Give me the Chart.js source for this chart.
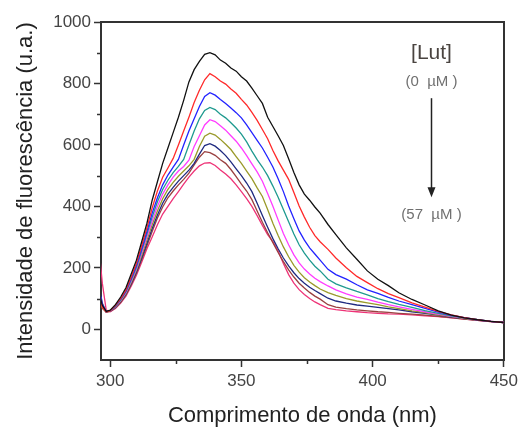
<!DOCTYPE html>
<html><head><meta charset="utf-8">
<script src="https://cdn.jsdelivr.net/npm/chart.js@4.4.1/dist/chart.umd.min.js"></script>
<style>html,body{margin:0;padding:0;background:#fff;}#wrap{width:522px;height:427px;}</style>
</head><body><div id="wrap"><canvas id="c" width="522" height="427"></canvas></div>
<script>
// wavelength grid (nm)
const wavelength = [296,297,298.5,300,302,304,306,308,310,312,314,316,318,320,322,324,326,328,330,332,334,336,338,340,342,344,346,348,350,352,354,356,358,360,362,364,366,368,370,372,374,376,378,380,383,386,390,394,398,402,406,410,415,420,425,430,435,440,445,450];
// fluorescence spectra, [Lut] from 0 µM (first) to 57 µM (last)
const curveBlack   = [110,78,58,62,80,105,135,180,225,285,345,420,480,540,590,640,690,745,805,845,872,895,900,893,876,866,850,840,822,808,785,760,735,690,660,630,598,555,510,470,440,420,398,378,341,308,265,228,190,163,142,119,97,79,60,46,37,31,26,22];
const curveRed     = [95,72,56,60,78,100,128,170,215,272,330,395,450,495,525,556,600,645,690,738,778,812,832,822,808,798,782,768,748,730,706,680,650,620,582,548,518,488,445,401,365,332,305,285,260,232,200,172,152,132,116,103,86,72,58,47,38,31,26,22];
const curveBlue    = [120,80,57,60,76,98,125,165,208,262,318,378,428,470,502,528,553,600,645,685,725,758,770,762,748,735,720,705,688,665,640,615,590,560,528,490,448,401,360,320,290,265,245,225,195,178,163,145,128,117,104,92,80,68,56,46,38,31,26,22];
const curveTeal    = [105,75,57,60,75,96,122,160,202,255,310,365,415,455,485,510,530,553,600,645,685,712,722,715,700,688,672,655,635,610,580,552,528,500,466,430,390,350,310,275,248,225,205,190,163,148,135,123,112,100,90,81,71,61,52,44,37,31,26,22];
const curveMagenta = [115,78,57,60,74,94,120,156,197,248,300,352,400,440,470,495,515,530,550,595,630,665,682,676,662,648,630,612,590,565,538,512,482,442,400,356,312,275,242,216,196,180,166,155,141,128,115,105,97,88,80,73,65,57,49,42,36,30,26,22];
const curveOlive   = [100,72,56,59,72,92,117,152,192,240,290,340,385,425,455,478,498,515,532,553,595,628,638,632,618,602,585,562,540,515,490,460,432,390,345,305,268,236,208,186,168,154,142,131,119,110,100,92,86,80,73,67,60,54,47,41,35,30,26,22];
const curveNavy    = [130,85,57,59,71,90,114,148,186,232,280,328,372,410,440,462,482,500,518,540,570,598,604,596,582,565,545,522,500,476,448,410,370,332,295,262,232,206,184,165,150,137,126,116,101,92,85,79,75,71,67,63,57,52,46,40,35,30,26,22];
const curveBrown   = [90,68,56,58,70,88,112,145,182,226,272,318,362,398,428,450,470,488,508,535,560,578,575,566,552,540,520,497,472,450,422,385,348,314,282,250,220,193,170,150,134,120,108,98,80,72,67,63,60,57,55,52,49,46,42,38,33,29,25,22];
const curvePink    = [240,150,62,57,68,85,108,140,176,218,262,300,340,375,400,425,448,472,495,515,532,541,542,533,518,505,490,470,448,425,400,370,338,308,285,255,214,178,150,129,113,100,89,80,68,64,60,57,54,52,50,49,47,44,41,37,33,29,25,22];

const curves = [curveBlack,curveRed,curveBlue,curveTeal,curveMagenta,curveOlive,curveNavy,curveBrown,curvePink];
const curveColors = ['#111111','#ff2a2a','#2323ff','#1f9a8f','#ff3cff','#9a9a2a','#1f2a80','#9a4040','#ee3377'];

const yTicks = [0,200,400,600,800,1000];
const yMinorTicks = [100,300,500,700,900];
const xTicks = [300,350,400,450];
const xMinorTicks = [325,375,425];

const FONT = '"Liberation Sans", Arial, sans-serif';
const AX = '#333';

const extras = {
  id: 'extras',
  afterDraw(chart) {
    const {ctx, scales: {x, y}, chartArea: a} = chart;
    ctx.save();
    ctx.strokeStyle = AX; ctx.lineWidth = 1.5;
    yMinorTicks.forEach(v => {
      const p = Math.round(y.getPixelForValue(v)) + 0.5;
      ctx.beginPath(); ctx.moveTo(a.left - 4, p); ctx.lineTo(a.left, p); ctx.stroke();
    });
    xMinorTicks.forEach(v => {
      const p = Math.round(x.getPixelForValue(v)) + 0.5;
      ctx.beginPath(); ctx.moveTo(p, a.bottom); ctx.lineTo(p, a.bottom + 4); ctx.stroke();
    });
    // annotation
    const ax = Math.round(x.getPixelForValue(422.3)) + 0.5;
    ctx.textAlign = 'center'; ctx.textBaseline = 'middle';
    ctx.fillStyle = '#4a4440';
    ctx.font = '21px ' + FONT;
    ctx.fillText('[Lut]', ax, y.getPixelForValue(898));
    ctx.fillStyle = '#707070';
    ctx.font = '15px ' + FONT;
    ctx.fillText('(0  µM )', ax, y.getPixelForValue(805));
    ctx.fillText('(57  µM )', ax, y.getPixelForValue(372));
    const y1 = y.getPixelForValue(752), y2 = y.getPixelForValue(430);
    ctx.strokeStyle = '#222'; ctx.lineWidth = 1.5;
    ctx.beginPath(); ctx.moveTo(ax, y1); ctx.lineTo(ax, y2 - 8); ctx.stroke();
    ctx.fillStyle = '#222';
    ctx.beginPath(); ctx.moveTo(ax - 4, y2 - 10); ctx.lineTo(ax + 4, y2 - 10); ctx.lineTo(ax, y2); ctx.closePath(); ctx.fill();
    ctx.restore();
  }
};

new Chart(document.getElementById('c'), {
  type: 'line',
  data: {
    datasets: curves.map((c, i) => ({
      data: wavelength.map((w, j) => ({x: w, y: c[j]})),
      borderColor: curveColors[i],
      borderWidth: 1.3,
      pointRadius: 0,
      tension: 0,
      fill: false
    }))
  },
  options: {
    responsive: false,
    animation: false,
    devicePixelRatio: 1,
    layout: {padding: {top: 22, right: 16, left: 0, bottom: 0}},
    plugins: {legend: {display: false}, tooltip: {enabled: false}},
    scales: {
      x: {
        type: 'linear', position: 'bottom', min: 296.5, max: 450,
        afterBuildTicks: s => { s.ticks = xTicks.map(v => ({value: v})); },
        afterFit: s => { s.height = 67; },
        ticks: {color: '#444', font: {family: FONT, size: 17}, padding: 4, maxRotation: 0, autoSkip: false, callback: v => String(v)},
        grid: {drawOnChartArea: false, drawTicks: true, tickLength: 7, tickColor: AX, tickWidth: 1.5},
        border: {color: AX, width: 2},
        title: {display: true, text: 'Comprimento de onda (nm)', color: '#222', font: {family: FONT, size: 22, lineHeight: 1}, padding: {top: 0, bottom: 0}}
      },
      y: {
        type: 'linear', position: 'left', min: -100, max: 1000,
        afterBuildTicks: s => { s.ticks = yTicks.map(v => ({value: v})); },
        afterFit: s => { s.width = 101; },
        ticks: {color: '#444', font: {family: FONT, size: 17}, padding: 3, callback: v => String(v)},
        grid: {drawOnChartArea: false, drawTicks: true, tickLength: 7, tickColor: AX, tickWidth: 1.5},
        border: {color: AX, width: 2},
        title: {display: true, text: 'Intensidade de fluorescência (u.a.)', color: '#222', font: {family: FONT, size: 22, lineHeight: 1}, padding: {top: 15, bottom: 0}}
      },
      x2: {
        type: 'linear', position: 'top', min: 296.5, max: 450,
        afterFit: s => { s.height = 0; },
        ticks: {display: false}, grid: {display: false},
        border: {display: true, color: AX, width: 2}
      },
      y2: {
        type: 'linear', position: 'right', min: -100, max: 1000,
        afterFit: s => { s.width = 0; },
        ticks: {display: false}, grid: {display: false},
        border: {display: true, color: AX, width: 2}
      }
    }
  },
  plugins: [extras]
});
</script>
</body></html>
